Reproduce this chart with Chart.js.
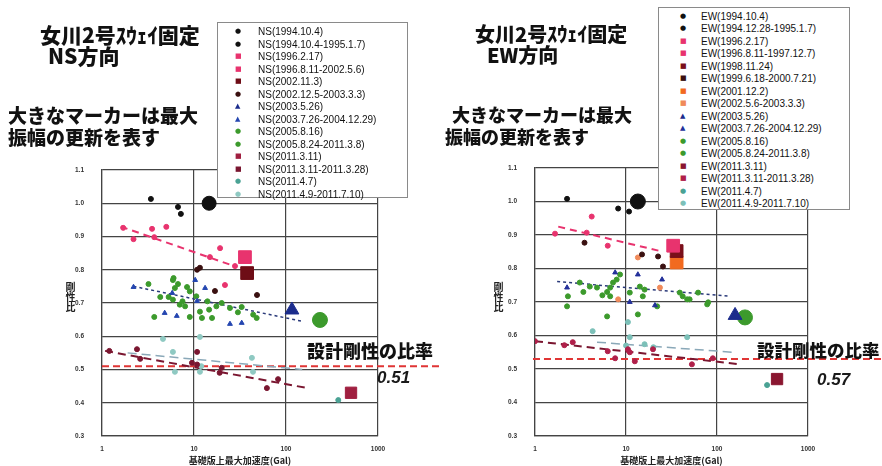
<!DOCTYPE html>
<html>
<head>
<meta charset="utf-8">
<script src="https://cdn.jsdelivr.net/npm/chart.js@4.4.0/dist/chart.umd.min.js"></script>
<style>
body { margin: 0; background: #fff; width: 882px; height: 466px; overflow: hidden; position: relative; font-family: "Noto Sans CJK JP", sans-serif; }
.box { position: absolute; top: 0; height: 466px; }
.txt { position: absolute; font-weight: 900; color: #111; line-height: 1; white-space: nowrap; }
.num { position: absolute; font: italic bold 17px "Liberation Sans", sans-serif; color: #1a1a1a; line-height: 1; }
.legend { position: absolute; border: 1px solid #8a8a8a; background: #fff; box-sizing: border-box; }
.legend span { position: absolute; white-space: nowrap; line-height: 1; }
.legend .lt { font: 10px "Liberation Sans", sans-serif; color: #111; }
.legend .mk { font: 7px "DejaVu Sans", sans-serif; }
.ylab { position: absolute; writing-mode: vertical-rl; font-weight: bold; font-size: 10px; color: #222; line-height: 1; }
</style>
</head>
<body>
<div class="box" style="left:0;width:440px"><canvas id="nsChart"></canvas></div>
<div class="box" style="left:440px;width:442px"><canvas id="ewChart"></canvas></div>

<div class="txt" style="left:40px;top:24px;font-size:21px">女川2号ｽｳｪｲ固定</div>
<div class="txt" style="left:48px;top:45px;font-size:21px">NS方向</div>
<div class="txt" style="left:8px;top:105px;font-size:19px">大きなマーカーは最大</div>
<div class="txt" style="left:8px;top:127px;font-size:19px">振幅の更新を表す</div>
<div class="txt" style="left:307px;top:341px;font-size:18px">設計剛性の比率</div>
<div class="num" style="left:377px;top:369px">0.51</div>
<div class="ylab" style="left:65px;top:282px">剛性比</div>

<div class="txt" style="left:475px;top:24px;font-size:20px">女川2号ｽｳｪｲ固定</div>
<div class="txt" style="left:487px;top:45px;font-size:20px">EW方向</div>
<div class="txt" style="left:452px;top:105px;font-size:18px">大きなマーカーは最大</div>
<div class="txt" style="left:445px;top:127px;font-size:18px">振幅の更新を表す</div>
<div class="txt" style="left:757px;top:341px;font-size:17.5px">設計剛性の比率</div>
<div class="num" style="left:817px;top:371px">0.57</div>
<div class="ylab" style="left:493px;top:282px">剛性比</div>

<div id="nsLegend" class="legend" style="left:217px;top:22px;width:191px;height:176px"></div>
<div id="ewLegend" class="legend" style="left:658px;top:7px;width:192px;height:203px"></div>

<script>
// axes
const xTicks = [1, 10, 100, 1000];
const yMin = 0.3;
const yMax = 1.1;
const xTitle = '基礎版上最大加速度(Gal)';

// ---- NS direction ----
const nsLabels = [
    'NS(1994.10.4)', 'NS(1994.10.4-1995.1.7)', 'NS(1996.2.17)', 'NS(1996.8.11-2002.5.6)',
    'NS(2002.11.3)', 'NS(2002.12.5-2003.3.3)', 'NS(2003.5.26)', 'NS(2003.7.26-2004.12.29)',
    'NS(2005.8.16)', 'NS(2005.8.24-2011.3.8)', 'NS(2011.3.11)', 'NS(2011.3.11-2011.3.28)',
    'NS(2011.4.7)', 'NS(2011.4.9-2011.7.10)'
];
const nsColors = ['#111111', '#111111', '#e8336e', '#e8336e', '#6e0d16', '#3a1010', '#1b2c8c', '#2446b0',
    '#3c9a2c', '#3c9a2c', '#a01f40', '#7a1630', '#4aa294', '#8fc9c2'];
const nsShapes = ['circle', 'circle', 'rect', 'circle', 'rect', 'circle', 'triangle', 'triangle',
    'circle', 'circle', 'rect', 'circle', 'circle', 'circle'];
const nsLegendShapes = ['circle', 'circle', 'rect', 'rect', 'rect', 'circle', 'triangle', 'triangle',
    'circle', 'circle', 'rect', 'rect', 'circle', 'circle'];
const nsSizes = [7, 2.5, 9, 2.5, 9, 2.5, 8, 2.8, 7.5, 2.5, 8, 2.5, 2.5, 2.5];

const ns01 = [[14.6, 1.0]];
const ns02 = [[3.4, 1.013], [6.7, 0.989], [7.2, 0.968]];
const ns03 = [[35.8, 0.838]];
const ns04 = [[1.7, 0.926], [2.2, 0.892], [3.5, 0.923], [3.7, 0.898], [5.0, 0.929], [19.2, 0.865],
    [14.9, 0.838], [27.9, 0.811], [21.7, 0.754]];
const ns05 = [[37.8, 0.79]];
const ns06 = [[10.8, 0.80], [11.6, 0.806], [16.9, 0.736], [48.4, 0.724]];
const ns07 = [[116, 0.679]];
const ns08 = [[10.3, 0.769], [13.2, 0.745], [2.2, 0.748], [4.8, 0.67], [6.5, 0.661], [24.6, 0.637],
    [33, 0.64], [10.8, 0.706], [5.8, 0.73]];
const ns09 = [[234, 0.649]];
const ns10 = [[3.2, 0.757], [5.9, 0.769], [6.7, 0.757], [8.4, 0.748], [9.0, 0.735], [10.6, 0.72],
    [4.3, 0.718], [5.3, 0.718], [5.9, 0.71], [7.5, 0.705], [3.7, 0.658], [7.0, 0.695], [8.0, 0.69],
    [12.2, 0.655], [15.7, 0.655], [11.6, 0.674], [14.6, 0.68], [17.5, 0.69], [24.6, 0.685], [33, 0.688],
    [30, 0.672], [48, 0.655], [44, 0.665], [9.0, 0.658], [20, 0.70], [14, 0.705], [6.2, 0.745], [6.0, 0.775]];
const ns11 = [[509, 0.43]];
const ns12 = [[1.2, 0.556], [2.4, 0.561], [2.6, 0.532], [9.5, 0.52], [10.8, 0.515], [20, 0.505],
    [19, 0.49], [82, 0.471], [62, 0.444], [10.8, 0.553]];
const ns13 = [[370, 0.408]];
const ns14 = [[4.6, 0.592], [5.9, 0.553], [11.6, 0.598], [6.2, 0.493], [11.6, 0.493], [42.6, 0.535],
    [43.8, 0.493], [12, 0.51]];
const nsPoints = [ns01, ns02, ns03, ns04, ns05, ns06, ns07, ns08, ns09, ns10, ns11, ns12, ns13, ns14];

// NS trend lines and design ratio line
const nsTrendPink = [[1.6, 0.93], [28, 0.81]];
const nsTrendGreen = [[2.2, 0.75], [150, 0.645]];
const nsTrendRed = [[1.08, 0.556], [172, 0.444]];
const nsTrendTeal = [[1.9, 0.55], [150, 0.50]];
const nsDesign = [[1, 0.51], [4700, 0.51]];

// ---- EW direction ----
const ewLabels = [
    'EW(1994.10.4)', 'EW(1994.12.28-1995.1.7)', 'EW(1996.2.17)', 'EW(1996.8.11-1997.12.7)',
    'EW(1998.11.24)', 'EW(1999.6.18-2000.7.21)', 'EW(2001.12.2)', 'EW(2002.5.6-2003.3.3)',
    'EW(2003.5.26)', 'EW(2003.7.26-2004.12.29)', 'EW(2005.8.16)', 'EW(2005.8.24-2011.3.8)',
    'EW(2011.3.11)', 'EW(2011.3.11-2011.3.28)', 'EW(2011.4.7)', 'EW(2011.4.9-2011.7.10)'
];
const ewColors = ['#111111', '#111111', '#e8336e', '#e8336e', '#7a0f1a', '#3a1010', '#f26a1f', '#f08a5a',
    '#1b2c8c', '#23309a', '#3c9a2c', '#3c9a2c', '#8a1630', '#b0204a', '#4aa294', '#7cc0b8'];
const ewShapes = ['circle', 'circle', 'rect', 'circle', 'rect', 'circle', 'rect', 'circle',
    'triangle', 'triangle', 'circle', 'circle', 'rect', 'circle', 'circle', 'circle'];
const ewLegendShapes = ['circle', 'circle', 'rect', 'rect', 'rect', 'rect', 'rect', 'rect',
    'triangle', 'triangle', 'circle', 'circle', 'rect', 'rect', 'circle', 'circle'];
const ewSizes = [7.5, 2.5, 9, 2.5, 9, 2.5, 9, 2.5, 8, 2.8, 7.5, 2.5, 8, 2.5, 2.5, 2.5];

const ew01 = [[13.5, 1.0]];
const ew02 = [[2.25, 1.008], [8.2, 0.979], [10.8, 0.97]];
const ew03 = [[33, 0.868]];
const ew04 = [[1.66, 0.904], [4.2, 0.955], [3.7, 0.907], [6.3, 0.868]];
const ew05 = [[36, 0.852]];
const ew06 = [[3.5, 0.877], [25.5, 0.806], [22.5, 0.836], [15, 0.842]];
const ew07 = [[36, 0.818]];
const ew08 = [[13.5, 0.833], [8.2, 0.708], [23.6, 0.743]];
const ew09 = [[158, 0.66]];
const ew10 = [[7.6, 0.788], [13.5, 0.782], [24.9, 0.767], [2.25, 0.743], [11, 0.70], [20.8, 0.69]];
const ew11 = [[203, 0.654]];
const ew12 = [[3.1, 0.758], [4.0, 0.746], [4.8, 0.743], [3.4, 0.73], [5.5, 0.72], [6.7, 0.743],
    [7.2, 0.758], [7.9, 0.767], [8.6, 0.782], [6.2, 0.73], [6.7, 0.717], [14.2, 0.746], [16, 0.737],
    [11, 0.728], [15.3, 0.717], [39, 0.728], [42, 0.717], [62, 0.728], [80, 0.699], [50, 0.708],
    [2.3, 0.717], [6.2, 0.657], [13.5, 0.663], [2.25, 0.687], [22, 0.687], [78, 0.693], [47, 0.708]];
const ew13 = [[457, 0.47]];
const ew14 = [[1.0, 0.583], [2.1, 0.571], [2.6, 0.58], [6.3, 0.553], [10.5, 0.559], [11, 0.55],
    [12.5, 0.523], [19.8, 0.559], [7.6, 0.532], [53, 0.514], [90, 0.532]];
const ew15 = [[355, 0.452]];
const ew16 = [[4.3, 0.613], [10.5, 0.64], [11, 0.595], [47, 0.595], [16, 0.574], [10, 0.57], [20, 0.565]];
const ewPoints = [ew01, ew02, ew03, ew04, ew05, ew06, ew07, ew08, ew09, ew10, ew11, ew12, ew13, ew14, ew15, ew16];

// EW trend lines and design ratio line
const ewTrendPink = [[1.8, 0.925], [25.5, 0.85]];
const ewTrendGreen = [[1.75, 0.761], [139, 0.717]];
const ewTrendRed = [[1.0, 0.583], [179, 0.514]];
const ewTrendTeal = [[4.8, 0.58], [150, 0.55]];
const ewDesign = [[0.95, 0.53], [6500, 0.53]];

function toXY(list) {
    return list.map(p => ({ x: p[0], y: p[1] }));
}

function lineSet(list, color, dash, width) {
    return {
        type: 'line',
        data: toXY(list),
        borderColor: color,
        borderWidth: width,
        borderDash: dash,
        pointRadius: 0,
        showLine: true,
        fill: false
    };
}

function pointSets(points, colors, shapes, sizes) {
    return points.map((pts, i) => ({
        data: toXY(pts),
        backgroundColor: colors[i],
        borderColor: colors[i],
        borderWidth: 1,
        pointStyle: shapes[i],
        pointRadius: sizes[i],
        showLine: false
    }));
}

function makeChart(id, datasets, pad) {
    const ctx = document.getElementById(id).getContext('2d');
    const tickFont = { family: 'Liberation Sans', size: 6.5, weight: 'bold' };
    return new Chart(ctx, {
        type: 'scatter',
        data: { datasets: datasets },
        options: {
            responsive: true,
            maintainAspectRatio: false,
            animation: false,
            layout: { padding: pad },
            plugins: { legend: { display: false }, tooltip: { enabled: false } },
            scales: {
                x: {
                    type: 'logarithmic',
                    min: 1,
                    max: 1000,
                    afterBuildTicks: scale => { scale.ticks = xTicks.map(v => ({ value: v })); },
                    afterFit: scale => { scale.height = 30; },
                    ticks: {
                        callback: v => String(v),
                        autoSkip: false,
                        maxRotation: 0,
                        padding: 9,
                        color: '#333',
                        font: tickFont
                    },
                    grid: { color: '#444', lineWidth: 1.2, drawTicks: false },
                    border: { color: '#444', width: 1.2 },
                    title: {
                        display: true,
                        text: xTitle,
                        color: '#222',
                        padding: { top: 0, bottom: 0 },
                        font: { family: 'Noto Sans CJK JP', size: 9, weight: 'bold' }
                    }
                },
                y: {
                    min: yMin,
                    max: yMax,
                    afterFit: scale => { scale.width = 40; },
                    ticks: {
                        stepSize: 0.1,
                        callback: v => v.toFixed(1),
                        padding: 18,
                        color: '#333',
                        font: tickFont
                    },
                    grid: { color: '#444', lineWidth: 1.2, drawTicks: false },
                    border: { color: '#444', width: 1.2 }
                }
            }
        }
    });
}

// Build HTML legend boxes
function buildLegend(id, labels, colors, shapes, markX, textX, firstY, stepY) {
    const box = document.getElementById(id);
    const glyph = { circle: '●', rect: '■', triangle: '▲' };
    labels.forEach((label, i) => {
        const y = firstY + stepY * i;
        const mk = document.createElement('span');
        mk.className = 'mk';
        mk.style.left = (markX - 3) + 'px';
        mk.style.top = (y - 4) + 'px';
        mk.style.color = colors[i];
        mk.textContent = glyph[shapes[i]];
        box.appendChild(mk);
        const tx = document.createElement('span');
        tx.className = 'lt';
        tx.style.left = textX + 'px';
        tx.style.top = (y - 5) + 'px';
        tx.textContent = label;
        box.appendChild(tx);
    });
}

const nsSets = pointSets(nsPoints, nsColors, nsShapes, nsSizes).concat([
    lineSet(nsTrendPink, '#e8336e', [7, 5], 2),
    lineSet(nsTrendGreen, '#2a3a7a', [3, 3], 1.5),
    lineSet(nsTrendRed, '#7a1630', [8, 5], 2),
    lineSet(nsTrendTeal, '#8aa8b8', [9, 5], 1.5),
    Object.assign(lineSet(nsDesign, '#e03535', [7, 4], 2), { clip: false })
]);

const ewSets = pointSets(ewPoints, ewColors, ewShapes, ewSizes).concat([
    lineSet(ewTrendPink, '#e8336e', [7, 5], 2),
    lineSet(ewTrendGreen, '#2a3a7a', [3, 3], 1.5),
    lineSet(ewTrendRed, '#7a1630', [8, 5], 2),
    lineSet(ewTrendTeal, '#8aa8b8', [9, 5], 1.5),
    Object.assign(lineSet(ewDesign, '#e03535', [7, 4], 2), { clip: false })
]);

makeChart('nsChart', nsSets, { left: 62, right: 62, top: 170, bottom: 0 });
makeChart('ewChart', ewSets, { left: 55, right: 74, top: 168, bottom: 0 });

buildLegend('nsLegend', nsLabels, nsColors, nsLegendShapes, 20, 40, 8, 12.54);
buildLegend('ewLegend', ewLabels, ewColors, ewLegendShapes, 24, 42, 8, 12.47);
</script>
</body>
</html>
